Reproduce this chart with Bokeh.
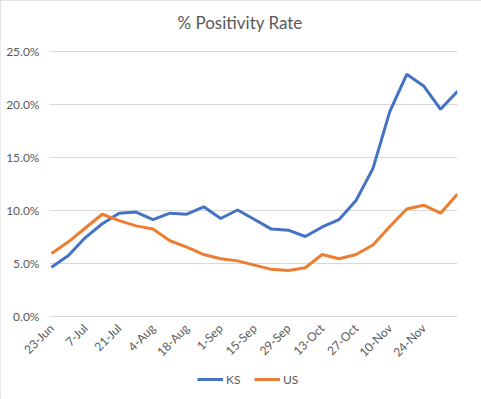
from bokeh.plotting import figure
from bokeh.models import Range1d, FixedTicker, PrintfTickFormatter, Legend, LegendItem
from bokeh.embed import file_html
from bokeh.resources import INLINE

dates = ["23-Jun", "30-Jun", "7-Jul", "14-Jul", "21-Jul", "28-Jul", "4-Aug", "11-Aug",
         "18-Aug", "25-Aug", "1-Sep", "8-Sep", "15-Sep", "22-Sep", "29-Sep", "6-Oct",
         "13-Oct", "20-Oct", "27-Oct", "3-Nov", "10-Nov", "17-Nov", "24-Nov", "1-Dec", "8-Dec"]
ks = [4.6, 5.7, 7.4, 8.7, 9.7, 9.8, 9.1, 9.7, 9.6, 10.3, 9.2, 10.0, 9.1, 8.2, 8.1, 7.5,
      8.4, 9.1, 10.9, 13.9, 19.3, 22.8, 21.7, 19.5, 21.2]
us = [5.9, 7.0, 8.3, 9.6, 9.0, 8.5, 8.2, 7.1, 6.5, 5.8, 5.4, 5.2, 4.8, 4.4, 4.3, 4.55,
      5.8, 5.4, 5.8, 6.7, 8.45, 10.1, 10.45, 9.7, 11.5]
tick_labels = ["23-Jun", "7-Jul", "21-Jul", "4-Aug", "18-Aug", "1-Sep", "15-Sep",
               "29-Sep", "13-Oct", "27-Oct", "10-Nov", "24-Nov"]
y_ticks = [0, 5, 10, 15, 20, 25]

FONT = "Lato"
GREY = "#595959"
GRID = "#D9D9D9"

x = list(range(len(dates)))
tick_pos = [dates.index(t) for t in tick_labels]

# The frame covers almost the whole canvas so the axis labels (drawn at fixed
# locations inside it) and the legend are not clipped.
p = figure(width=481, height=399, output_backend="svg", toolbar_location=None,
           x_range=Range1d(-3.015, len(dates) - 1), y_range=Range1d(-7.5, 25.99057),
           min_border_left=0, min_border_right=24, min_border_top=40, min_border_bottom=4,
           title="% Positivity Rate")
p.outline_line_color = None
p.background_fill_color = "white"
p.border_fill_color = "white"
p.styles = {"outline": "1px solid #D9D9D9", "outline-offset": "-1px"}

p.title.align = "left"
p.title.offset = 177
p.title.text_font = FONT
p.title.text_font_size = "17px"
p.title.text_font_style = "normal"
p.title.text_color = GREY
p.title.standoff = 16

r1 = p.line(x, ks, line_color="#4472C4", line_width=3)
r2 = p.line(x, us, line_color="#ED7D31", line_width=3)

p.xgrid.grid_line_color = None
p.ygrid.ticker = FixedTicker(ticks=y_ticks)
p.ygrid.grid_line_color = GRID
p.ygrid.bounds = (y_ticks[0], y_ticks[-1])
p.ygrid.cross_bounds = (x[0] - 0.12, x[-1])

p.yaxis.fixed_location = x[0] - 0.12
p.yaxis.ticker = FixedTicker(ticks=y_ticks)
p.yaxis.formatter = PrintfTickFormatter(format="%.1f%%")
p.yaxis.axis_line_color = None
p.yaxis.major_tick_line_color = None
p.yaxis.minor_tick_line_color = None
p.yaxis.major_tick_out = 0
p.yaxis.major_label_standoff = 10
p.yaxis.major_label_text_font = FONT
p.yaxis.major_label_text_font_size = "12px"
p.yaxis.major_label_text_color = GREY

p.xaxis.fixed_location = 0
p.xaxis.ticker = FixedTicker(ticks=tick_pos)
p.xaxis.major_label_overrides = {pos: lab for pos, lab in zip(tick_pos, tick_labels)}
p.xaxis.major_label_orientation = 0.785398
p.xaxis.axis_line_color = None
p.xaxis.major_tick_line_color = None
p.xaxis.minor_tick_line_color = None
p.xaxis.major_tick_out = 0
p.xaxis.major_label_standoff = 10
p.xaxis.major_label_text_font = FONT
p.xaxis.major_label_text_font_size = "12px"
p.xaxis.major_label_text_color = GREY

legend = Legend(items=[LegendItem(label="KS", renderers=[r1]),
                       LegendItem(label="US", renderers=[r2])],
                orientation="horizontal", location=(197, 8))
legend.border_line_color = None
legend.background_fill_alpha = 0
legend.label_text_font = FONT
legend.label_text_font_size = "12px"
legend.label_text_color = GREY
legend.glyph_width = 26
legend.glyph_height = 16
legend.label_standoff = 3
legend.spacing = 8
legend.padding = 0
legend.margin = 0
p.add_layout(legend, "center")

open("out.html", "w").write(file_html(p, INLINE))
